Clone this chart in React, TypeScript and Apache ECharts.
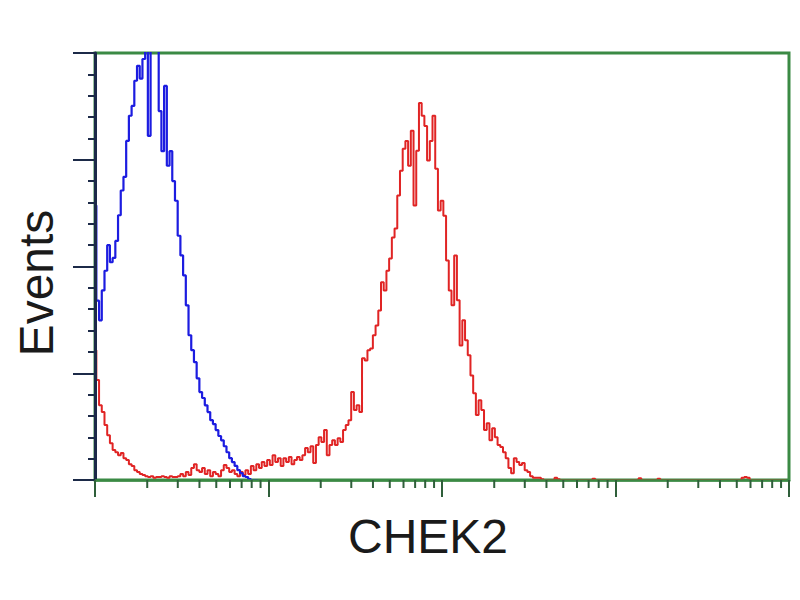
import React, { useEffect, useRef } from "react";
import * as echarts from "echarts";

// Histogram counts per channel (256 channels over 4 log decades, 64 per decade)
const channelsPerDecade = 64;
const xMin = 1;
const xMax = 10000;
const yMax = 100;
const yInterval = 25;

// Blue (control) histogram, channels 0..60
const blueCounts = [
  64.3, 42, 37.4, 44.4, 49, 55, 51, 52, 56, 62,
  67.8, 71, 79.4, 85.3, 87.6, 93.5, 97, 94, 98.6, 103,
  80.6, 105, 104, 101.6, 86.4, 77, 92.3, 73.6, 77, 70,
  65.4, 57.2, 52.6, 47.9, 40.9, 33.9, 30.4, 27.6, 23.8, 20.6,
  19.2, 17.5, 15.9, 14, 13.1, 11.7, 10.3, 9.3, 7.9, 6.5,
  5.1, 4.2, 3.3, 2.3, 1.6, 0.9, 0.7, 0.2, 0, 0, 0,
];

// Red (CHEK2) histogram, channels 0..255
const redCounts = [
  30.4, 23.4, 17.5, 15.9, 12.9, 10.5, 8.6, 7, 6.5, 5.8,
  6.3, 5.1, 4.7, 3.7, 3.3, 2.3, 1.9, 1.4, 1.2, 0.9,
  0.7, 0.9, 0.5, 0.7, 0.7, 0.9, 0.7, 0.5, 0.9, 0.7,
  0.7, 0.9, 1.4, 0.9, 1.9, 1.2, 2.8, 3.7, 2.3, 1.9,
  2.8, 1.4, 2.3, 0.9, 1.9, 1.4, 0.9, 2.3, 3.5, 2.8,
  1.9, 2.3, 1.4, 0.9, 1.9, 1.2, 2.3, 1.4, 3.3, 2.3,
  3.7, 2.8, 4.2, 3.3, 4.7, 3.5, 5.8, 4.2, 5.1, 3.3,
  5.1, 4.2, 5.4, 3.7, 4.7, 5.4, 4.7, 5.8, 7.5, 6.5,
  7.9, 4.0, 8.2, 10, 8.9, 11.7, 5.8, 8.2, 9.3, 8.2,
  9.8, 8.9, 11.7, 12.9, 14, 20.6, 16.4, 17.5, 15.9, 28.5,
  28, 30.4, 30.8, 33.9, 36.2, 39.7, 46.3, 44.4, 49, 51.9,
  56.8, 58.9, 66.6, 72.4, 77.6, 79.4, 73.6, 81.8, 64.3, 77.1,
  88.3, 85.3, 82.9, 74.8, 79.4, 85.3, 72.9, 63.1, 65.4, 61.9,
  51.4, 44.4, 40.9, 52.6, 42.1, 31.5, 37.4, 32.7, 29.2, 24.5,
  20.3, 15.2, 18.7, 16.4, 11.7, 13.3, 9.3, 12.1, 10, 8.2,
  7.7, 6.5, 5.1, 2.8, 1.6, 5.1, 4.2, 3.5, 4.0, 2.3,
  1.9, 0.9, 0.5, 0.5, 0.5, 0.2, 0, 0, 0, 0,
  0.5, 0.2, 0, 0, 0, 0, 0, 0, 0, 0,
  0, 0, 0, 0, 0.3, 0, 0, 0, 0, 0,
  0, 0, 0, 0, 0, 0, 0, 0, 0, 0,
  0, 0.4, 0, 0, 0, 0, 0, 0, 0.3, 0,
  0, 0, 0, 0, 0, 0, 0, 0, 0, 0,
  0, 0, 0, 0, 0, 0, 0, 0, 0, 0,
  0, 0, 0, 0, 0, 0, 0, 0, 0, 0.5,
  0.7, 0.5, 0, 0, 0, 0, 0, 0, 0, 0,
  0, 0, 0, 0, 0, 0,
];

// Minor tick multipliers within each decade and decade bases
const minorMultipliers = [2, 3, 4, 5, 6, 7, 8, 9];
const decadeBases = [1, 10, 100, 1000];

const xAxisTitle = "CHEK2";
const yAxisTitle = "Events";

const GREEN = "#3b8a44";
const DARK = "#1c2a48";
const FONT = '"Liberation Sans", Arial, sans-serif';

function toSeries(counts: number[]) {
  return counts.map((v, c) => [Math.pow(10, c / channelsPerDecade), v]);
}

export default function App() {
  const ref = useRef<HTMLDivElement>(null);

  useEffect(() => {
    document.body.style.margin = "0";
    if (!ref.current) return;
    const chart = echarts.init(ref.current, undefined, { renderer: "svg" });

    const minorTickData: number[][] = [];
    decadeBases.forEach((b) =>
      minorMultipliers.forEach((m) => minorTickData.push([b * m, 0]))
    );

    chart.setOption({
      animation: false,
      backgroundColor: "#ffffff",
      grid: {
        left: 95,
        right: 11,
        top: 53,
        bottom: 120,
        show: true,
        borderColor: GREEN,
        borderWidth: 3,
        backgroundColor: "transparent",
      },
      xAxis: {
        type: "log",
        logBase: 10,
        min: xMin,
        max: xMax,
        splitNumber: 4,
        z: 5,
        axisLine: { show: true, lineStyle: { color: GREEN, width: 2.5 } },
        axisTick: {
          show: true,
          inside: false,
          length: 17,
          lineStyle: { color: "#2f5f3a", width: 2 },
        },
        axisLabel: { show: false },
        splitLine: { show: false },
        minorTick: { show: false },
      },
      yAxis: {
        type: "value",
        min: 0,
        max: yMax,
        interval: yInterval,
        z: 5,
        axisLine: { show: true, lineStyle: { color: DARK, width: 3 } },
        axisTick: {
          show: true,
          inside: false,
          length: 22,
          lineStyle: { color: DARK, width: 2 },
        },
        minorTick: {
          show: true,
          splitNumber: 5,
          length: 7,
          lineStyle: { color: DARK, width: 2 },
        },
        axisLabel: { show: false },
        splitLine: { show: false },
        minorSplitLine: { show: false },
      },
      graphic: [
        {
          type: "text",
          x: 36,
          y: 283,
          rotation: Math.PI / 2,
          style: {
            text: yAxisTitle,
            fontFamily: FONT,
            fontSize: 48,
            fill: "#1a1a1a",
            align: "center",
            verticalAlign: "middle",
          },
        },
        {
          type: "text",
          x: 428,
          y: 536,
          style: {
            text: xAxisTitle,
            fontFamily: FONT,
            fontSize: 48,
            fill: "#1a1a1a",
            align: "center",
            verticalAlign: "middle",
          },
        },
      ],
      series: [
        {
          type: "line",
          name: "CHEK2",
          data: toSeries(redCounts),
          step: "middle",
          symbol: "none",
          z: 2,
          lineStyle: { color: "#e02424", width: 2 },
        },
        {
          type: "line",
          name: "Control",
          data: toSeries(blueCounts),
          step: "middle",
          symbol: "none",
          z: 3,
          lineStyle: { color: "#1c1ce0", width: 2.2 },
        },
        {
          type: "custom",
          name: "minorTicks",
          data: minorTickData,
          z: 6,
          silent: true,
          renderItem: (params: any, api: any) => {
            const pt = api.coord([api.value(0), 0]);
            return {
              type: "line",
              shape: { x1: pt[0], y1: pt[1], x2: pt[0], y2: pt[1] + 8 },
              style: { stroke: "#2f5f3a", lineWidth: 2 },
            };
          },
        },
      ],
    });

    return () => chart.dispose();
  }, []);

  return <div ref={ref} style={{ width: 800, height: 600 }} />;
}
